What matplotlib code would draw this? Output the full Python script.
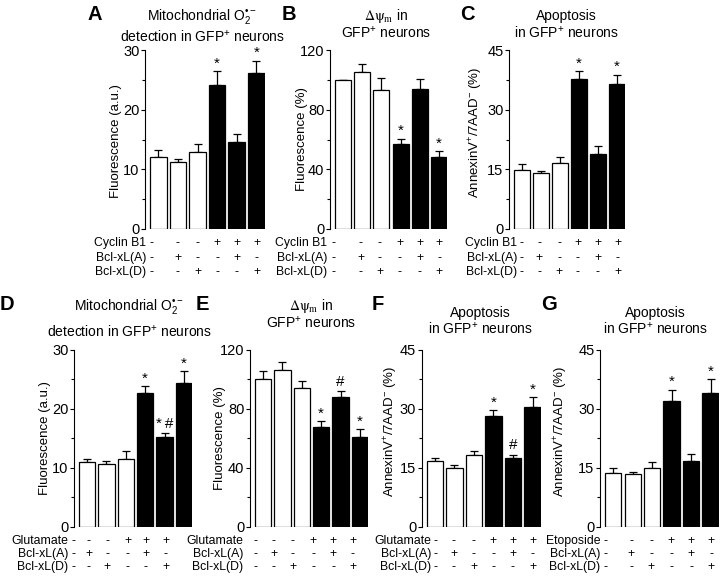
import matplotlib
matplotlib.use('Agg')
import matplotlib.pyplot as plt
from matplotlib.ticker import MultipleLocator

plt.rcParams['font.family'] = ['Liberation Sans', 'DejaVu Sans']
plt.rcParams['mathtext.fontset'] = 'custom'
plt.rcParams['mathtext.rm'] = 'Liberation Sans'
plt.rcParams['mathtext.it'] = 'Liberation Sans:italic'
plt.rcParams['mathtext.bf'] = 'Liberation Sans:bold'
plt.rcParams['mathtext.sf'] = 'Liberation Sans'

# ---------------- data ----------------
rows_cyclin = ['Cyclin B1', 'Bcl-xL(A)', 'Bcl-xL(D)']
rows_glu = ['Glutamate', 'Bcl-xL(A)', 'Bcl-xL(D)']
rows_eto = ['Etoposide', 'Bcl-xL(A)', 'Bcl-xL(D)']
signs = [['-', '-', '-', '+', '+', '+'],
         ['-', '+', '-', '-', '+', '-'],
         ['-', '-', '+', '-', '-', '+']]
fills = ['white', 'white', 'white', 'black', 'black', 'black']

A_mean = [12.0, 11.2, 12.9, 24.1, 14.5, 26.1]
A_err = [1.3, 0.6, 1.4, 2.4, 1.5, 2.1]
A_mark = ['', '', '', '*', '', '*']

B_mean = [100, 105, 93.5, 57, 94, 48]
B_err = [0, 5.5, 7.5, 3.6, 6.5, 4.1]
B_mark = ['', '', '', '*', '', '*']

C_mean = [14.8, 14.0, 16.5, 37.7, 18.8, 36.4]
C_err = [1.6, 0.7, 1.5, 2.0, 2.0, 2.4]
C_mark = ['', '', '', '*', '', '*']

D_mean = [11.0, 10.6, 11.5, 22.6, 15.2, 24.3]
D_err = [0.5, 0.6, 1.3, 1.2, 0.7, 2.0]
D_mark = ['', '', '', '*', '*\u2009#', '*']

E_mean = [100, 106, 94, 67.8, 87.6, 60.8]
E_err = [5.7, 5.8, 4.6, 3.8, 4.1, 5.4]
E_mark = ['', '', '', '*', '#', '*']

F_mean = [16.6, 14.8, 18.1, 28.1, 17.5, 30.3]
F_err = [0.9, 0.9, 1.2, 1.5, 0.8, 2.6]
F_mark = ['', '', '', '*', '#', '*']

G_mean = [13.6, 13.3, 15.0, 31.8, 16.7, 34.0]
G_err = [1.3, 0.7, 1.4, 3.0, 1.8, 3.4]
G_mark = ['', '', '', '*', '', '*']

t_mito = ['Mitochondrial O$_2^{\u2022-}$', r'detection in GFP$^{+}$ neurons']
t_dpsi = [r'$\mathrm{\Delta\psi_m}$ in', r'GFP$^{+}$ neurons']
t_apo = ['Apoptosis', r'in GFP$^{+}$ neurons']
yl_au = 'Fluorescence (a.u.)'
yl_pct = 'Fluorescence (%)'
yl_ann = r'AnnexinV$^{+}$/7AAD$^{-}$ (%)'

# ---------------- layout (pixels) ----------------
W, H = 720, 578
fig = plt.figure(figsize=(W / 100, H / 100), dpi=100)

panels = [
    dict(letter='A', lx=87, ly=5, rect=(145, 264.5, 50, 229), ymax=30, maj=10, mnr=5,
         mean=A_mean, err=A_err, mark=A_mark, ylabel=yl_au, ylx=122, yly=0.49,
         title=t_mito, tx=202, ty=[17, 37], rows=rows_cyclin, rowx=146,
         symx=[151, 178, 197.5, 217, 236.5, 256.5], rowy=[243, 258, 272]),
    dict(letter='B', lx=282, ly=5, rect=(330, 447, 50, 229), ymax=120, maj=40, mnr=20,
         mean=B_mean, err=B_err, mark=B_mark, ylabel=yl_pct, ylx=308, yly=0.5,
         title=t_dpsi, tx=386, ty=[16, 33], rows=rows_cyclin, rowx=327,
         symx=[333, 360.5, 380, 400, 419.5, 439], rowy=[243, 258, 272]),
    dict(letter='C', lx=460, ly=5, rect=(509, 625, 50, 229), ymax=45, maj=15, mnr=7.5,
         mean=C_mean, err=C_err, mark=C_mark, ylabel=yl_ann, ylx=485, yly=0.54,
         title=t_apo, tx=566, ty=[16, 33], rows=rows_cyclin, rowx=517,
         symx=[521, 539, 559, 578, 598, 617.5], rowy=[243, 258, 272]),
    dict(letter='D', lx=0, ly=295, rect=(74, 192, 349.5, 526.7), ymax=30, maj=10, mnr=5,
         mean=D_mean, err=D_err, mark=D_mark, ylabel=yl_au, ylx=51, yly=0.5,
         title=t_mito, tx=129, ty=[307, 332], rows=rows_glu, rowx=68.5,
         symx=[74, 88.5, 107, 127.5, 146, 165.5], rowy=[541, 554, 567]),
    dict(letter='E', lx=196, ly=295, rect=(250, 368, 349.5, 526.7), ymax=120, maj=40, mnr=20,
         mean=E_mean, err=E_err, mark=E_mark, ylabel=yl_pct, ylx=226, yly=0.5,
         title=t_dpsi, tx=311, ty=[306, 323], rows=rows_glu, rowx=243.5,
         symx=[255, 273.5, 292.5, 313, 333, 352.5], rowy=[541, 554, 567]),
    dict(letter='F', lx=372, ly=295, rect=(421.7, 540.7, 349.5, 526.7), ymax=45, maj=15, mnr=7.5,
         mean=F_mean, err=F_err, mark=F_mark, ylabel=yl_ann, ylx=400, yly=0.54,
         title=t_apo, tx=480, ty=[313, 329], rows=rows_glu, rowx=431,
         symx=[436, 453.5, 473.5, 493, 512.5, 532.5], rowy=[541, 554, 567]),
    dict(letter='G', lx=541, ly=295, rect=(600, 718.7, 349.5, 526.7), ymax=45, maj=15, mnr=7.5,
         mean=G_mean, err=G_err, mark=G_mark, ylabel=yl_ann, ylx=570, yly=0.54,
         title=t_apo, tx=655, ty=[313, 329], rows=rows_eto, rowx=600.5,
         symx=[606, 631, 651, 671, 691, 711], rowy=[541, 554, 567]),
]

def fx(px):
    return px / W

def fy(py):
    return 1 - py / H

def mark_offset(mk):
    if '#' in mk and '*' in mk:
        return 3.5
    if '#' in mk:
        return 4.0
    return 2.5

for p in panels:
    l, r, t, b = p['rect']
    ax = fig.add_axes([fx(l), fy(b), (r - l) / W, (b - t) / H])
    x = list(range(len(p['mean'])))
    ax.bar(x, p['mean'], width=0.84, color=fills, edgecolor='black',
           linewidth=0.9, zorder=2)
    ax.errorbar(x, p['mean'], yerr=[[0] * len(x), p['err']], fmt='none',
                ecolor='black', elinewidth=0.9, capsize=3, capthick=0.9, zorder=1)
    for xi, m, e, mk in zip(x, p['mean'], p['err'], p['mark']):
        if mk:
            ax.annotate(mk, (xi, m + e), xytext=(0, mark_offset(mk)),
                        textcoords='offset points', ha='center', va='baseline',
                        fontsize=11)
    ax.set_xlim(-0.68, 5.42)
    ax.set_ylim(0, p['ymax'])
    ax.yaxis.set_major_locator(MultipleLocator(p['maj']))
    ax.yaxis.set_minor_locator(MultipleLocator(p['mnr']))
    for s in ['top', 'right', 'bottom']:
        ax.spines[s].set_visible(False)
    ax.spines['left'].set_linewidth(0.8)
    ax.set_xticks([])
    ax.tick_params(axis='y', which='major', direction='out', length=3, width=0.8,
                   pad=1, labelsize=10.5)
    ax.tick_params(axis='y', which='minor', direction='out', length=2, width=0.8)
    ax.set_ylabel(p['ylabel'], fontsize=9.5)
    ax.yaxis.set_label_coords((p['ylx'] - l) / (r - l), p['yly'])
    # title
    for line, yy in zip(p['title'], p['ty']):
        kw = {}
        if line.startswith(r'$\mathrm{\Delta'):
            kw['math_fontfamily'] = 'stix'
        fig.text(fx(p['tx']), fy(yy), line, ha='center', va='center',
                 fontsize=10, **kw)
    # letter
    fig.text(fx(p['lx']), fy(p['ly']), p['letter'], ha='left', va='top',
             fontsize=14.5, fontweight='bold')
    # condition table
    for ri, (name, yy) in enumerate(zip(p['rows'], p['rowy'])):
        fig.text(fx(p['rowx']), fy(yy), name, ha='right', va='center', fontsize=8.8)
        for sx, sg in zip(p['symx'], signs[ri]):
            fig.text(fx(sx), fy(yy), sg, ha='center', va='center', fontsize=8.8)

fig.savefig('out.png', dpi=100)
